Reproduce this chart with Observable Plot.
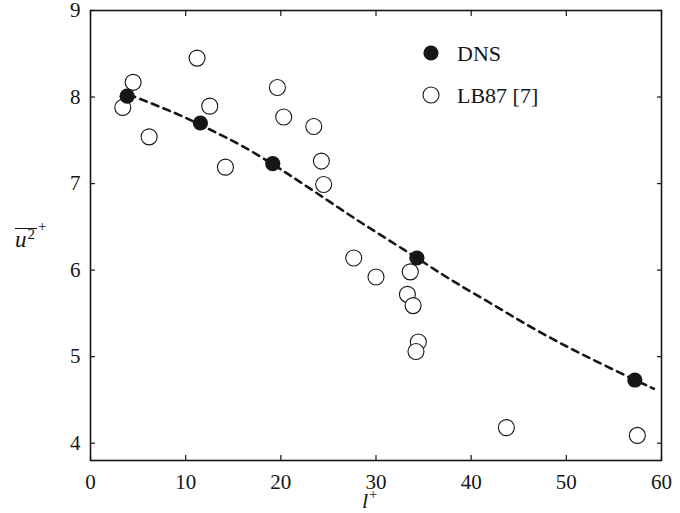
<!DOCTYPE html>
<html>
<head>
<meta charset="utf-8">
<script src="https://cdn.jsdelivr.net/npm/d3@7"></script>
<script src="https://cdn.jsdelivr.net/npm/@observablehq/plot@0.6"></script>
<style>
  html, body { margin: 0; padding: 0; background: #fff; }
  #chart { width: 680px; height: 513px; }
  #chart svg text { font-family: "Liberation Serif", "Times New Roman", Times, serif; }
</style>
</head>
<body>
<div id="chart"></div>
<script>
// DNS (filled) points
const dnsX = [3.85, 11.55, 19.15, 34.3, 57.2];
const dnsY = [8.01, 7.70, 7.23, 6.14, 4.73];

// LB87 [7] (open) points
const lbX = [4.48, 3.39, 6.16, 11.2, 12.53, 14.18, 19.64, 20.3, 23.46, 24.26, 24.5,
             27.66, 30.0, 33.6, 33.3, 33.9, 34.45, 34.2, 43.7, 57.46];
const lbY = [8.17, 7.88, 7.54, 8.45, 7.895, 7.19, 8.11, 7.77, 7.66, 7.26, 6.99,
             6.14, 5.92, 5.98, 5.72, 5.59, 5.17, 5.06, 4.18, 4.09];

// dashed fit curve
const fitX = [4.0, 7.0, 10.0, 13.0, 16.0, 19.2, 22.0, 25.0, 28.0, 31.0, 34.3,
              38.0, 42.0, 46.0, 50.0, 54.0, 58.0, 59.2];
const fitY = [8.03, 7.90, 7.76, 7.60, 7.43, 7.22, 7.02, 6.80, 6.58, 6.37, 6.14,
              5.88, 5.62, 5.36, 5.12, 4.90, 4.69, 4.63];

const xTicks = [0, 10, 20, 30, 40, 50, 60];
const yTicks = [4, 5, 6, 7, 8, 9];

const dns = dnsX.map((x, i) => ({x, y: dnsY[i]}));
const lb = lbX.map((x, i) => ({x, y: lbY[i]}));
const fit = fitX.map((x, i) => ({x, y: fitY[i]}));

const ink = "#161616";
const serif = "Liberation Serif, Times New Roman, Times, serif";

const plot = Plot.plot({
  width: 680,
  height: 513,
  marginLeft: 90,
  marginRight: 19,
  marginTop: 10,
  marginBottom: 53,
  x: {domain: [0, 60]},
  y: {domain: [3.8, 9]},
  style: {fontFamily: serif, fontSize: "21px", color: ink, background: "#fff"},
  marks: [
    Plot.axisX({ticks: xTicks, tickSize: -5, tickPadding: 19, tickFormat: d => String(d), label: null, strokeWidth: 1.2}),
    Plot.axisX({anchor: "top", ticks: xTicks, tickSize: -5, tickFormat: () => "", label: null, strokeWidth: 1.2}),
    Plot.axisY({ticks: yTicks, tickSize: -5, tickPadding: 15, tickFormat: d => String(d), label: null, strokeWidth: 1.2}),
    Plot.axisY({anchor: "right", ticks: yTicks, tickSize: -5, tickFormat: () => "", label: null, strokeWidth: 1.2}),
    Plot.frame({stroke: ink, strokeWidth: 1.6}),
    Plot.line(fit, {x: "x", y: "y", stroke: ink, strokeWidth: 2.6, strokeDasharray: "7,5.5", curve: "natural"}),
    Plot.dot(lb, {x: "x", y: "y", r: 8, stroke: ink, fill: "white", strokeWidth: 1.1}),
    Plot.dot(dns, {x: "x", y: "y", r: 7.6, fill: ink, stroke: "none"})
  ]
});

document.getElementById("chart").appendChild(plot);

const svg = d3.select(plot);

// y-axis label: overline(u^2)^+
const yl = svg.append("g").attr("font-family", serif).attr("fill", ink).attr("text-anchor", "start");
const ylt = yl.append("text").attr("x", 15).attr("y", 247).attr("font-size", 23).attr("text-anchor", "start");
ylt.append("tspan").attr("font-style", "italic").text("u");
ylt.append("tspan").attr("font-size", 15).attr("dy", -8).attr("dx", 1).text("2");
ylt.append("tspan").attr("font-size", 15).attr("dy", -8).attr("dx", 3).text("+");
yl.append("line").attr("x1", 15).attr("x2", 37).attr("y1", 228.5).attr("y2", 228.5)
  .attr("stroke", ink).attr("stroke-width", 1);

// x-axis label: l^+
const xlt = svg.append("text").attr("x", 362).attr("y", 508).attr("text-anchor", "start")
  .attr("font-family", serif).attr("font-size", 22).attr("fill", ink);
xlt.append("tspan").attr("font-style", "italic").text("l");
xlt.append("tspan").attr("font-size", 14).attr("dy", -9).attr("dx", 1).text("+");

// legend
const lg = svg.append("g").attr("font-family", serif).attr("font-size", 22).attr("fill", ink)
  .attr("text-anchor", "start");
lg.append("circle").attr("cx", 431).attr("cy", 53).attr("r", 7.6).attr("fill", ink);
lg.append("text").attr("x", 457).attr("y", 53).attr("dy", "0.35em").text("DNS");
lg.append("circle").attr("cx", 431).attr("cy", 95).attr("r", 8).attr("fill", "white")
  .attr("stroke", ink).attr("stroke-width", 1.1);
lg.append("text").attr("x", 457).attr("y", 95).attr("dy", "0.35em").text("LB87 [7]");
</script>
</body>
</html>
